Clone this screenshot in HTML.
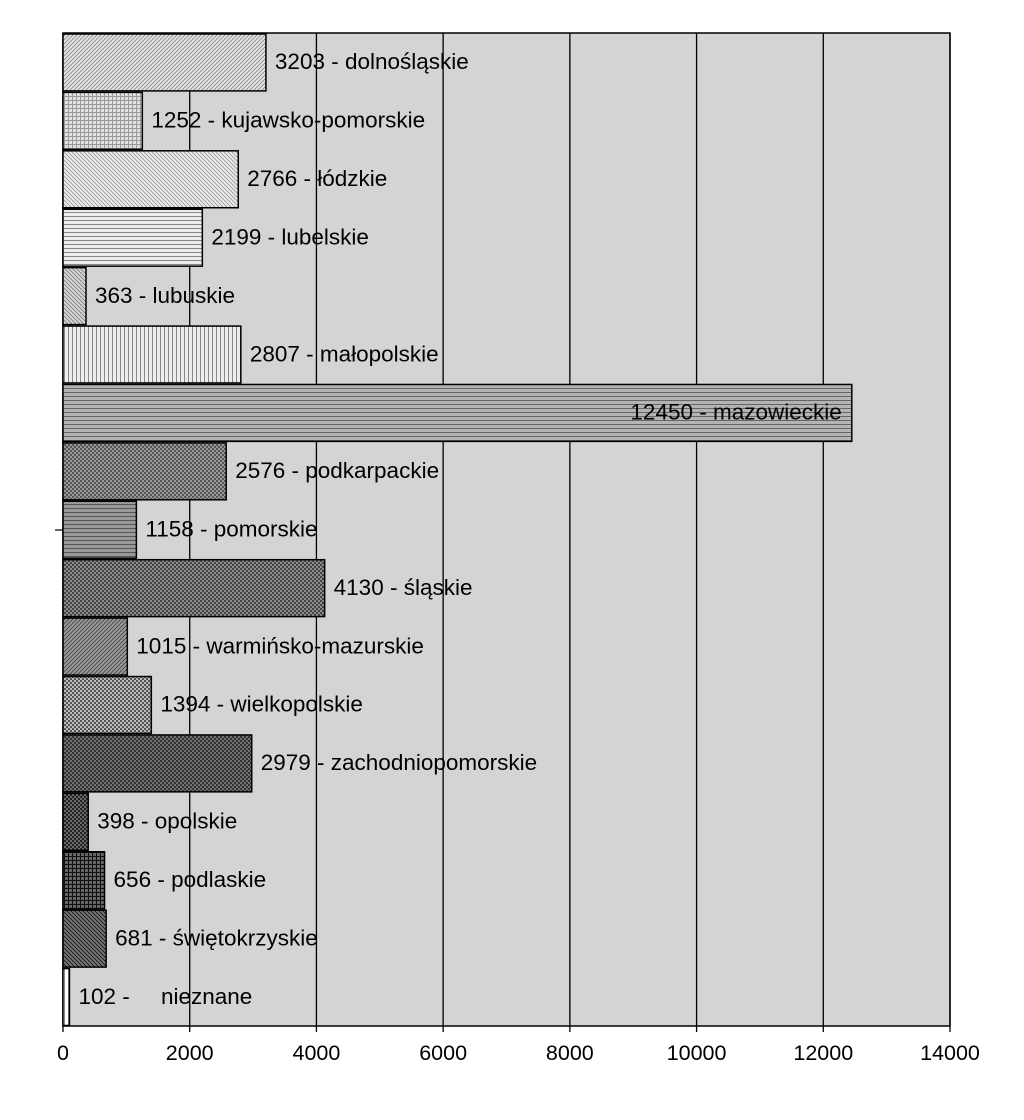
<!DOCTYPE html>
<html><head><meta charset="utf-8"><style>
html,body{margin:0;padding:0;background:#fff;}
svg{display:block;font-family:"Liberation Sans",Arial,sans-serif;}
</style></head><body>
<svg id="chart" width="1024" height="1120" viewBox="0 0 1024 1120" xmlns="http://www.w3.org/2000/svg">
<defs id="defs"></defs>
<rect x="63" y="33" width="887" height="993" fill="#d4d4d4" stroke="#000" stroke-width="1.5"/>
<g id="grid"></g>
<g id="bars"></g>
<g id="labels"></g>
<g id="xaxis"></g>
<line x1="55" y1="530" x2="63" y2="530" stroke="#000" stroke-width="1.2"/>
</svg>
<script>
const categories=["dolnośląskie","kujawsko-pomorskie","łódzkie","lubelskie","lubuskie","małopolskie","mazowieckie","podkarpackie","pomorskie","śląskie","warmińsko-mazurskie","wielkopolskie","zachodniopomorskie","opolskie","podlaskie","świętokrzyskie","nieznane"];
const values=[3203,1252,2766,2199,363,2807,12450,2576,1158,4130,1015,1394,2979,398,656,681,102];
const xTicks=[0,2000,4000,6000,8000,10000,12000,14000];
const NS="http://www.w3.org/2000/svg";
const X0=63,X1=950,Y0=33,Y1=1026,XMAX=14000;
function xs(v){return X0+(X1-X0)*v/XMAX;}
const band=(Y1-Y0)/categories.length;
function ys(i){return Y0+band*i;}
const pats=[["#e4e4e4","#888","d1"],["#e0e0e0","#999","grid"],["#ececec","#999","d2"],["#ececec","#888","h"],["#d8d8d8","#777","d2"],["#ececec","#888","v"],["#b4b4b4","#666","h"],["#999","#555","dot"],["#999","#555","h"],["#8c8c8c","#444","dot"],["#999","#444","d1"],["#bbb","#555","dot"],["#707070","#333","dot"],["#6a6a6a","#222","dot"],["#666","#111","grid"],["#777","#111","d2"],["#fff","#888","v"]];
const defs=document.getElementById('defs');
pats.forEach((p,i)=>{
 const pt=document.createElementNS(NS,'pattern');
 pt.setAttribute('id','p'+i);pt.setAttribute('patternUnits','userSpaceOnUse');
 pt.setAttribute('width','4');pt.setAttribute('height','4');
 let s='<rect width="4" height="4" fill="'+p[0]+'"/>';
 const f=p[1];
 if(p[2]=='d1')s+='<path d="M0,4 L4,0 M-1,1 L1,-1 M3,5 L5,3" stroke="'+f+'" stroke-width="0.8"/>';
 if(p[2]=='d2')s+='<path d="M0,0 L4,4 M-1,3 L1,5 M3,-1 L5,1" stroke="'+f+'" stroke-width="0.8"/>';
 if(p[2]=='h')s+='<rect y="0" width="4" height="1" fill="'+f+'"/>';
 if(p[2]=='v')s+='<rect x="0" width="1" height="4" fill="'+f+'"/>';
 if(p[2]=='grid')s+='<rect width="4" height="1" fill="'+f+'"/><rect width="1" height="4" fill="'+f+'"/>';
 if(p[2]=='dot')s+='<rect width="2" height="2" fill="'+f+'"/><rect x="2" y="2" width="2" height="2" fill="'+f+'"/>';
 pt.innerHTML=s;defs.appendChild(pt);
});
const grid=document.getElementById('grid'),xa=document.getElementById('xaxis');
xTicks.forEach(t=>{
 const l=document.createElementNS(NS,'line');
 
 
 l.setAttribute('x1',xs(t));l.setAttribute('x2',xs(t));l.setAttribute('y1',Y0);l.setAttribute('y2',Y1+6);
 l.setAttribute('stroke','#000');l.setAttribute('stroke-width','1.3');grid.appendChild(l);
 const tx=document.createElementNS(NS,'text');
 
 
 tx.setAttribute('x',xs(t));tx.setAttribute('y',1060);tx.setAttribute('text-anchor','middle');
 tx.setAttribute('font-size','21.5');tx.textContent=t;xa.appendChild(tx);
});
const bars=document.getElementById('bars'),labels=document.getElementById('labels');
values.forEach((v,i)=>{
 const r=document.createElementNS(NS,'rect');
 
 
 r.setAttribute('x',X0);r.setAttribute('y',ys(i)+1);
 r.setAttribute('width',xs(v)-X0);r.setAttribute('height',band-1.5);
 r.setAttribute('fill','url(#p'+i+')');r.setAttribute('stroke','#000');r.setAttribute('stroke-width','1.5');
 bars.appendChild(r);
 const tx=document.createElementNS(NS,'text');
 
 
 const inside=xs(v)>700;
 tx.setAttribute('x',inside?xs(v)-10:xs(v)+9);
 tx.setAttribute('text-anchor',inside?'end':'start');
 tx.setAttribute('y',ys(i)+band/2+7);tx.setAttribute('font-size','22.5');
 tx.textContent=v+' - '+(categories[i]=='nieznane'?'\u00a0\u00a0\u00a0\u00a0':'')+categories[i];
 labels.appendChild(tx);
});
</script>
</body></html>
